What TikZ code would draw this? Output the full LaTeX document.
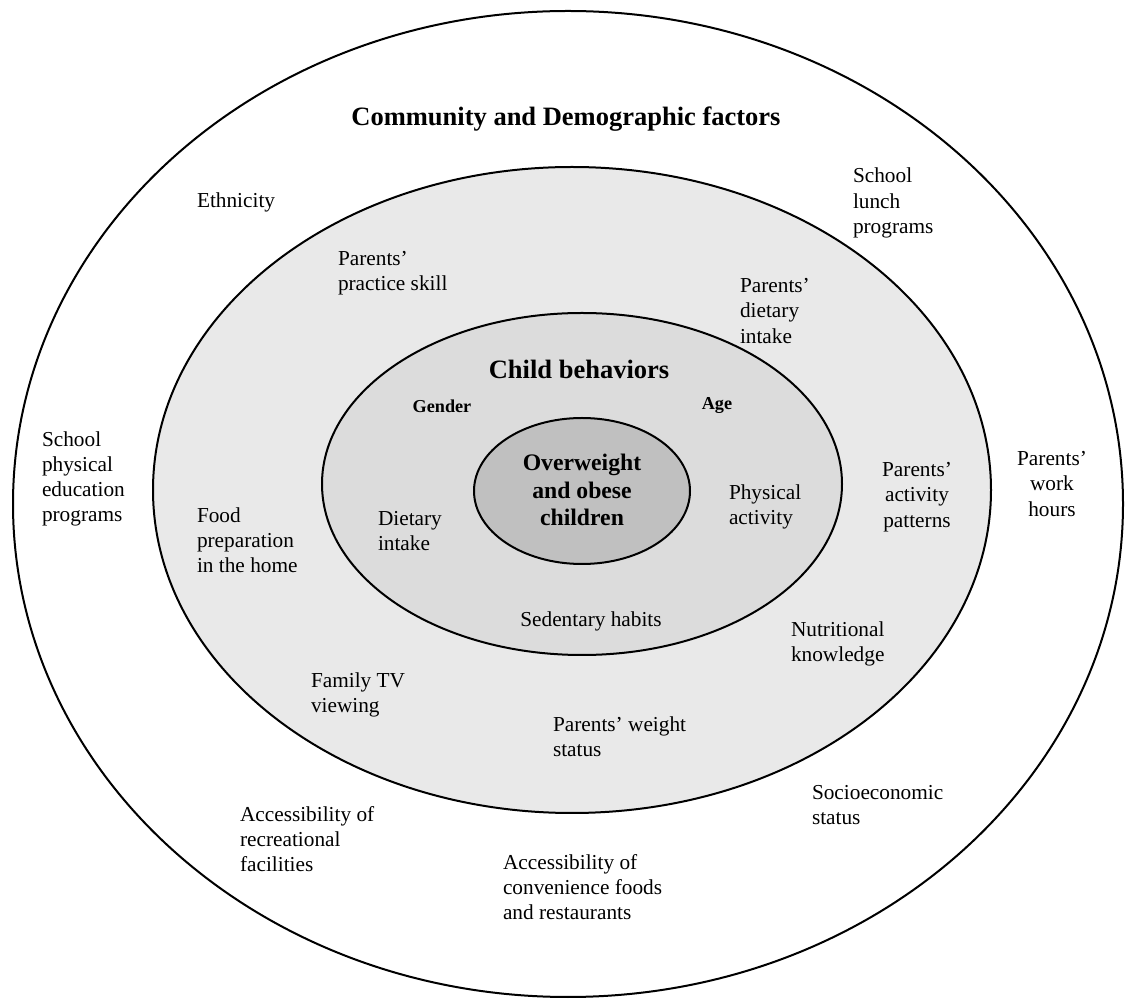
\documentclass[tikz,border=0pt]{standalone}
\usepackage{fontspec}
\setmainfont{Liberation Serif}
\begin{document}
\begin{tikzpicture}[x=0.5pt,y=-0.5pt,
  ring/.style={draw=black,line width=1pt},
  lbl/.style={inner sep=0pt,outer sep=0pt,align=left,anchor=west,font=\fontsize{10.65}{12.6}\selectfont},
  clbl/.style={inner sep=0pt,outer sep=0pt,align=center,font=\fontsize{10.65}{12.6}\selectfont},
  bigbold/.style={inner sep=0pt,font=\fontsize{13.25}{15}\selectfont\bfseries},
  smallbold/.style={inner sep=0pt,font=\fontsize{9.1}{11}\selectfont\bfseries}]
\definecolor{ringA}{RGB}{233,233,233}
\definecolor{ringB}{RGB}{220,220,220}
\definecolor{ringC}{RGB}{192,192,192}
\useasboundingbox (0,0) rectangle (1131,999);
\fill[white] (0,0) rectangle (1131,999);
% ellipses
\draw[ring] (568,504) ellipse [x radius=277.5pt, y radius=246.5pt];
\draw[ring,fill=ringA] (572,490) ellipse [x radius=209.5pt, y radius=161.5pt];
\draw[ring,fill=ringB] (582,484) ellipse [x radius=130pt, y radius=85.5pt];
\draw[ring,fill=ringC] (582,491) ellipse [x radius=54pt, y radius=36.5pt];
% titles
\node[bigbold] (title) at (566,119) {Community and Demographic factors};
\node[bigbold] (child) at (579,369) {Child behaviors};
\node[smallbold] (gender) at (442,406) {Gender};
\node[smallbold] (age) at (717,406) {Age};
\node[inner sep=0pt,align=center,font=\fontsize{11.85}{13.8}\selectfont\bfseries] (ow) at (582,490) {Overweight\\and obese\\children};
% child behaviours
\node[lbl] (di) at (378,531) {Dietary\\intake};
\node[lbl] (pa) at (729,507) {Physical\\activity};
\node[clbl] (sh) at (591,621) {Sedentary habits};
% family ring
\node[lbl] (pps) at (338,273.5) {Parents'\\practice skill};
\node[lbl] (pdi) at (740,311) {Parents'\\dietary\\intake};
\node[lbl] (fph) at (197,540) {Food\\preparation\\in the home};
\node[clbl] (pap) at (917,497) {Parents'\\activity\\patterns};
\node[lbl] (nk) at (791,644) {Nutritional\\knowledge};
\node[lbl] (ftv) at (311,695) {Family TV\\viewing};
\node[lbl] (pws) at (553,737) {Parents' weight\\status};
% community ring
\node[lbl] (ethn) at (197,202) {Ethnicity};
\node[lbl] (slp) at (853,203) {School\\lunch\\programs};
\node[lbl] (spe) at (42,479) {School\\physical\\education\\programs};
\node[clbl] (pwh) at (1052,484) {Parents'\\work\\hours};
\node[lbl] (arf) at (240,839) {Accessibility of\\recreational\\facilities};
\node[lbl] (acf) at (503,887) {Accessibility of\\convenience foods\\and restaurants};
\node[lbl] (ses) at (812,805) {Socioeconomic\\status};
\end{tikzpicture}
\end{document}
